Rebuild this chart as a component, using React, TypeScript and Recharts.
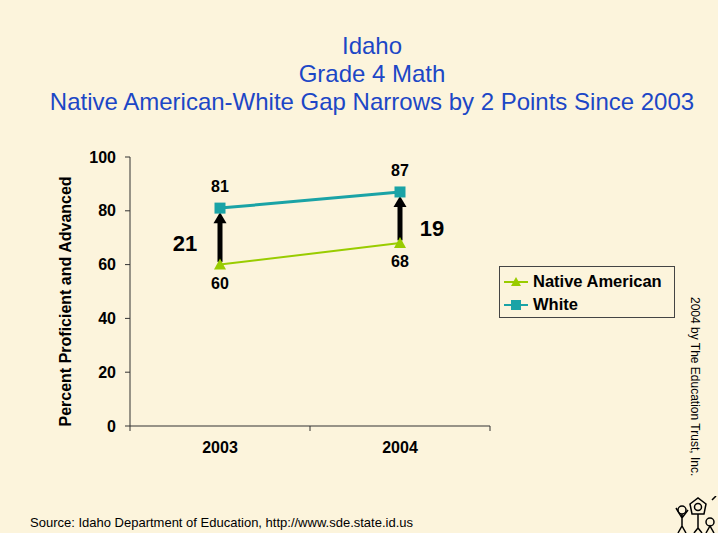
import React from 'react';
import {
  LineChart,
  Line,
  XAxis,
  YAxis,
  ReferenceLine,
} from 'recharts';

const years = ['2003', '2004'];
const nativeAmerican = [60, 68];
const white = [81, 87];
const yTicks = [0, 20, 40, 60, 80, 100];

const FONT = '"Liberation Sans", Arial, Helvetica, sans-serif';
const BLUE = '#1c47c6';
const TEAL = '#1aa3a6';
const LIME = '#99cc00';

const data = years.map((year, i) => ({
  pos: i + 0.5,
  year,
  native: nativeAmerican[i],
  white: white[i],
}));

const XTick = ({ x, y, payload }: any) => {
  const v = payload.value;
  if (Number.isInteger(v)) {
    return <line x1={x} y1={y - 8} x2={x} y2={y - 3} stroke="#333" strokeWidth={1} />;
  }
  return (
    <text x={x} y={y + 19} textAnchor="middle" fontFamily={FONT} fontSize={16} fontWeight="bold" fill="#000">
      {years[Math.floor(v)]}
    </text>
  );
};

const Triangle = ({ cx, cy }: any) => (
  <polygon points={`${cx},${cy - 6} ${cx - 6},${cy + 5} ${cx + 6},${cy + 5}`} fill={LIME} />
);

const Square = ({ cx, cy }: any) => (
  <rect x={cx - 5.5} y={cy - 5.5} width={11} height={11} fill={TEAL} />
);

const makeArrow = (gap: number, side: 'left' | 'right') => (props: any) => {
  const { x1, y1, x2, y2 } = props;
  const headH = 11;
  const mid = (y1 + y2) / 2;
  return (
    <g>
      <line x1={x1} y1={y1} x2={x2} y2={y2 + headH - 1} stroke="#000" strokeWidth={5} />
      <polygon points={`${x2},${y2} ${x2 - 6.5},${y2 + headH} ${x2 + 6.5},${y2 + headH}`} fill="#000" />
      <text
        x={side === 'left' ? x1 - 35 : x1 + 32}
        y={side === 'left' ? mid + 14 : mid + 18}
        textAnchor="middle"
        fontFamily={FONT}
        fontSize={22}
        fontWeight="bold"
        fill="#000"
      >
        {gap}
      </text>
    </g>
  );
};

const legendItems = [
  { name: 'Native American', color: LIME, shape: 'tri' },
  { name: 'White', color: TEAL, shape: 'sq' },
];

const LegendBox = () => (
  <div
    style={{
      position: 'absolute',
      left: 499,
      top: 266,
      width: 176,
      height: 52,
      border: '1px solid #444',
      fontFamily: FONT,
      fontSize: 16.5,
      fontWeight: 'bold',
      color: '#000',
      boxSizing: 'border-box',
      paddingTop: 3,
    }}
  >
    {legendItems.map((item) => (
      <div key={item.name} style={{ display: 'flex', alignItems: 'center', height: 23, marginLeft: 4 }}>
        <svg width={26} height={12} style={{ marginRight: 3 }}>
          <line x1={0} y1={6} x2={24} y2={6} stroke={item.color} strokeWidth={2} />
          {item.shape === 'tri' ? (
            <polygon points="12,1 7,10 17,10" fill={item.color} />
          ) : (
            <rect x={7} y={1} width={10} height={10} fill={item.color} />
          )}
        </svg>
        <span>{item.name}</span>
      </div>
    ))}
  </div>
);

export default function App() {
  return (
    <div
      style={{
        position: 'absolute',
        left: 0,
        top: 0,
        width: 718,
        height: 533,
        background: '#fcf4dc',
        overflow: 'hidden',
      }}
    >
      <div
        style={{
          position: 'absolute',
          top: 32,
          left: 0,
          width: 744,
          textAlign: 'center',
          fontFamily: FONT,
          fontSize: 24,
          lineHeight: '28px',
          color: BLUE,
        }}
      >
        <div>Idaho</div>
        <div>Grade 4 Math</div>
        <div>Native American-White Gap Narrows by 2 Points Since 2003</div>
      </div>

      <div style={{ position: 'absolute', left: 0, top: 0 }}>
        <LineChart width={718} height={533} data={data} margin={{ top: 157, right: 228, left: 60, bottom: 77 }}>
          <XAxis
            dataKey="pos"
            type="number"
            domain={[0, 2]}
            ticks={[0, 0.5, 1, 1.5, 2]}
            axisLine={{ stroke: '#333', strokeWidth: 1 }}
            tickLine={false}
            tick={<XTick />}
            height={30}
            interval={0}
          />
          <YAxis
            domain={[0, 100]}
            ticks={yTicks}
            width={70}
            axisLine={{ stroke: '#333', strokeWidth: 1 }}
            tickLine={{ stroke: '#333' }}
            tickSize={5}
            tickMargin={9}
            tick={{ fontFamily: FONT, fontSize: 16, fontWeight: 'bold', fill: '#000' }}
            label={{
              value: 'Percent Proficient and Advanced',
              angle: -90,
              position: 'insideLeft',
              dx: 0,
              dy: 135,
              style: { fontFamily: FONT, fontSize: 16, fontWeight: 'bold', fill: '#000' },
            }}
          />
          {data.map((d, i) => (
            <ReferenceLine
              key={d.year}
              segment={[
                { x: d.pos, y: d.native + 1 },
                { x: d.pos, y: d.white - 1.5 },
              ]}
              stroke="#000"
              shape={makeArrow(d.white - d.native, i === 0 ? 'left' : 'right')}
            />
          ))}
          <Line
            dataKey="native"
            name="Native American"
            stroke={LIME}
            strokeWidth={2}
            dot={<Triangle />}
            isAnimationActive={false}
            label={{ position: 'bottom', offset: 13, fontFamily: FONT, fontSize: 16, fontWeight: 'bold', fill: '#000' }}
          />
          <Line
            dataKey="white"
            name="White"
            stroke={TEAL}
            strokeWidth={3}
            dot={<Square />}
            isAnimationActive={false}
            label={{ position: 'top', offset: 16, fontFamily: FONT, fontSize: 16, fontWeight: 'bold', fill: '#000' }}
          />
        </LineChart>
      </div>

      <LegendBox />

      <div
        style={{
          position: 'absolute',
          left: 702,
          top: 297,
          transformOrigin: 'left top',
          transform: 'rotate(90deg)',
          whiteSpace: 'nowrap',
          fontFamily: FONT,
          fontSize: 12,
          color: '#000',
        }}
      >
        2004 by The Education Trust, Inc.
      </div>

      <div
        style={{
          position: 'absolute',
          left: 30,
          top: 515,
          fontFamily: FONT,
          fontSize: 13,
          color: '#000',
        }}
      >
        Source: Idaho Department of Education, http://www.sde.state.id.us
      </div>

      <svg style={{ position: 'absolute', left: 672, top: 496 }} width={46} height={37}>
        <g fill="none" stroke="#000" strokeWidth={1.5}>
          <circle cx={10} cy={14} r={4} />
          <path d="M10 18 L10 30 M4 12 L10 22 L16 14 M6 37 L10 30 L14 37" />
          <path d="M18 8 L26 2 L34 8 L32 18 L20 18 Z" />
          <circle cx={26} cy={11} r={3.5} />
          <path d="M26 18 L26 32 M22 37 L26 32 L30 37" />
          <circle cx={38} cy={26} r={4} />
          <path d="M34 37 L38 30 L42 37 M40 4 L44 0" />
        </g>
      </svg>
    </div>
  );
}
